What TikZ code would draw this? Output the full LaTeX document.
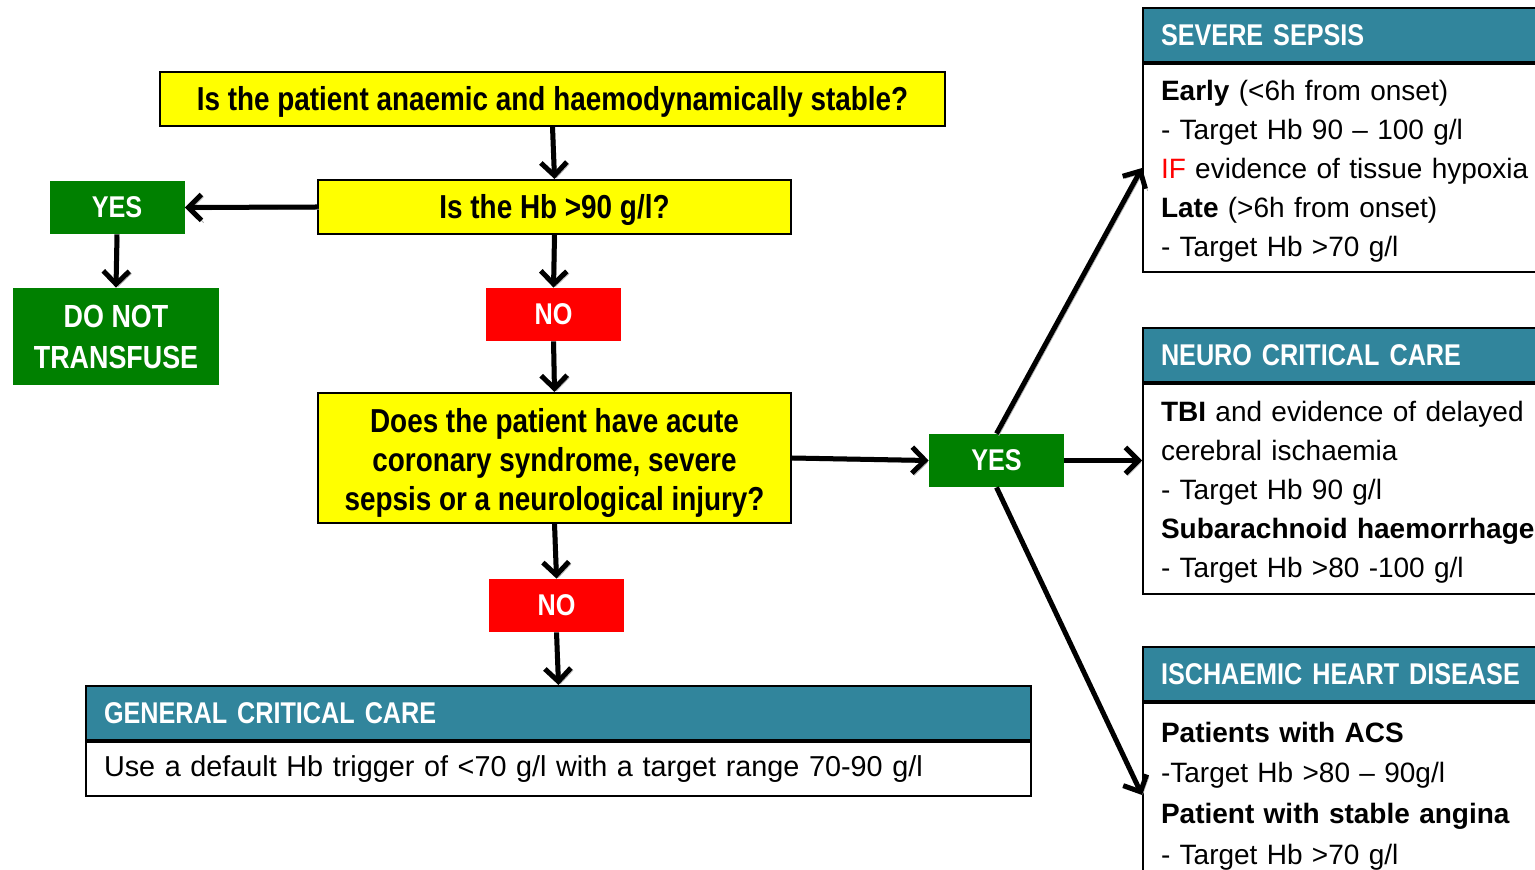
\documentclass[tikz,border=0pt]{standalone}
\usepackage{fontspec}
\setmainfont{Liberation Sans}
\newfontfamily\condfont{Liberation Sans}[FakeStretch=0.84]
\usetikzlibrary{arrows.meta,positioning}
\definecolor{qyellow}{RGB}{255,255,0}
\definecolor{okgreen}{RGB}{0,128,0}
\definecolor{nored}{RGB}{255,0,0}
\definecolor{headteal}{RGB}{49,133,156}

\begin{document}
\begin{tikzpicture}[x=0.5pt, y=-0.5pt,
	question/.style={draw=black, line width=1pt, fill=qyellow, align=center, inner sep=0pt,
		font=\condfont\bfseries\fontsize{16.6}{19.5}\selectfont},
	oneline/.style={text height=14pt, text depth=2.2pt},
	answer/.style={fill=#1, text=white, minimum width=67.5pt, minimum height=26.5pt, inner sep=0pt,
		font=\condfont\bfseries\fontsize{15}{18}\selectfont},
	boxhead/.style={draw=black, line width=1pt, fill=headteal, text=white, minimum height=27pt,
		text width=#1, align=left, inner xsep=9pt, inner ysep=0pt,
		font=\condfont\bfseries\fontsize{15}{18}\selectfont},
	boxbody/.style={draw=black, line width=1pt, fill=white, text width=#1, align=left,
		inner xsep=9pt, inner ysep=0pt, font=\fontsize{14}{19.5}\selectfont},
	flow/.style={line width=2.5pt, -{Straight Barb[length=6.5pt,width=13pt]},
		preaction={draw=black!30, transform canvas={shift={(1.1pt,-1.1pt)}}}}]
	\def\toprule{\rule{0pt}{16.3pt}}
	\useasboundingbox (0,0) rectangle (1535,870);

	\node[question, oneline, minimum width=392.5pt, minimum height=27pt] (q1) at (552.5,99) {Is the patient anaemic and haemodynamically stable?};
	\node[question, oneline, minimum width=236.5pt, minimum height=27pt] (q2) at (554.5,207) {Is the Hb >90 g/l?};
	\node[answer=okgreen] (yes1) at (117,207.5) {YES};
	\node[answer=okgreen, minimum width=103pt, minimum height=48.5pt, align=center,
		font=\condfont\bfseries\fontsize{16}{20.5}\selectfont] (dnt) at (116,336.5) {DO NOT\\TRANSFUSE};
	\node[answer=nored] (no1) at (553.5,314.5) {NO};
	\node[question, minimum width=236.5pt, minimum height=65pt] (q3) at (554.5,458) {\rule{0pt}{17pt}Does the patient have acute\\coronary syndrome, severe\\sepsis or a neurological injury?};
	\node[answer=nored] (no2) at (556.5,605.5) {NO};
	\node[answer=okgreen] (yes2) at (996.5,460.5) {YES};

	\node[boxhead=454.5pt, anchor=north west] (ghead) at (85,685) {GENERAL CRITICAL CARE};
	\node[boxbody=454.5pt, minimum height=27pt, below=0pt of ghead,
		font=\fontsize{14.4}{19.5}\selectfont] (gbody) {Use a default Hb trigger of <70 g/l with a target range 70-90 g/l};

	\node[boxhead=211pt, anchor=north west] (shead) at (1142,7) {SEVERE SEPSIS};
	\node[boxbody=211pt, minimum height=104pt, below=0pt of shead] (sbody) {\toprule\textbf{Early} (<6h from onset)\\
		\strut- Target Hb 90 – 100 g/l\\
		\strut\textcolor{nored}{IF} evidence of tissue hypoxia\\
		\strut\textbf{Late} (>6h from onset)\\
		\strut- Target Hb >70 g/l\strut};

	\node[boxhead=211pt, anchor=north west] (nhead) at (1142,327) {NEURO CRITICAL CARE};
	\node[boxbody=211pt, minimum height=105pt, below=0pt of nhead] (nbody) {\toprule\textbf{TBI} and evidence of delayed\\
		\strut cerebral ischaemia\\
		\strut- Target Hb 90 g/l\\
		\strut\textbf{Subarachnoid haemorrhage}\\
		\strut- Target Hb >80 -100 g/l\strut};

	\node[boxhead=211pt, anchor=north west] (ihead) at (1142,646) {ISCHAEMIC HEART DISEASE};
	\node[boxbody=211pt, minimum height=92pt, below=0pt of ihead, font=\fontsize{14}{20.35}\selectfont] (ibody) {\strut\textbf{Patients with ACS}\\
		\strut-Target Hb >80 – 90g/l\\
		\strut\textbf{Patient with stable angina}\\
		\strut- Target Hb >70 g/l\strut};

	\draw[flow] (q1.south) -- (q2.north);
	\draw[flow] (q2.west) -- (yes1.east);
	\draw[flow] (yes1.south) -- (dnt.north);
	\draw[flow] (q2.south) -- (no1.north);
	\draw[flow] (no1.south) -- (q3.north);
	\draw[flow] (q3.south) -- (no2.north);
	\draw[flow] (no2.south) -- (ghead.north);
	\draw[flow] (q3.east) -- (yes2.west);
	\draw[flow] (yes2.east) -- (yes2.east -| nbody.west);
	\draw[flow] (yes2.north) -- (sbody.west);
	\draw[flow] (yes2.south) -- (ibody.west);
\end{tikzpicture}
\end{document}
